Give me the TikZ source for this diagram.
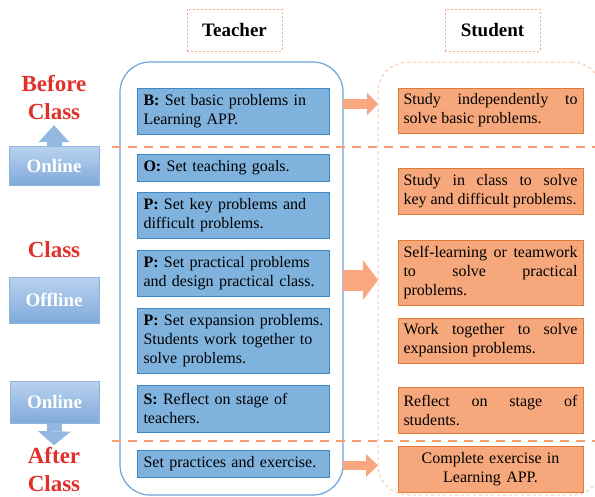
\documentclass[tikz,border=0pt]{standalone}
\usepackage{fontspec}
\setmainfont{Liberation Serif}
\usetikzlibrary{arrows.meta}
\hyphenpenalty=10000
\exhyphenpenalty=10000
\definecolor{tfill}{HTML}{7FB3DE}
\definecolor{tline}{HTML}{3F88C8}
\definecolor{sfill}{HTML}{F6A77B}
\definecolor{sline}{HTML}{E27A38}
\definecolor{arr}{HTML}{F8A77E}
\definecolor{dashc}{HTML}{F5A06E}
\definecolor{cont}{HTML}{6FA2D8}
\definecolor{scont}{HTML}{F9C4A6}
\definecolor{headc}{HTML}{F2A98C}
\definecolor{phasec}{HTML}{E0302A}
\definecolor{modetop}{HTML}{B9D2EE}
\definecolor{modebot}{HTML}{80AADB}
\definecolor{modeline}{HTML}{8FB4DF}
\definecolor{modearr}{HTML}{93B9E3}
\begin{document}
\begin{tikzpicture}[x=1pt,y=-1pt,
  every node/.style={inner sep=0pt, outer sep=0pt},
  body/.style={font=\fontsize{16}{19}\selectfont},
  tbox/.style={body, draw=tline, fill=tfill, line width=0.9pt,
    text width=180pt, inner xsep=6pt, align=left},
  sbox/.style={body, draw=sline, fill=sfill, line width=0.9pt,
    text width=174pt, inner xsep=5.5pt, align=justify},
  headbox/.style={draw=headc, line width=0.7pt, dash pattern=on 2pt off 2pt,
    minimum width=95pt, minimum height=42pt,
    font=\bfseries\fontsize{19}{22}\selectfont},
  phase/.style={text=phasec, align=center,
    font=\bfseries\fontsize{23}{28}\selectfont},
  mode/.style={shading=axis, top color=modetop, bottom color=modebot,
    draw=modeline, line width=0.8pt, minimum width=90pt, text=white,
    font=\bfseries\fontsize{19}{22}\selectfont},
  split/.style={draw=dashc, line width=1.8pt, dash pattern=on 9pt off 7pt},
]
\useasboundingbox (0,0) rectangle (595,496);

% column containers
\node[draw=cont, line width=1.2pt, rounded corners=30pt,
      minimum width=223pt, minimum height=433pt] (tc) at (231.5,278.5) {};
\node[draw=scont, line width=1pt, dash pattern=on 3pt off 3pt, rounded corners=30pt,
      minimum width=224pt, minimum height=433pt] (sc) at (490,278.5) {};

% stage separators
\draw[split] (112,147) -- (595,147);
\draw[split] (112,441) -- (595,441);

% column headings
\node[headbox] (th) at (234.5,30) {Teacher};
\node[headbox] (sh) at (492.5,30) {Student};

% stage labels
\node[phase] (before) at (54,98) {Before\\Class};
\node[phase] (inclass) at (54,250) {Class};
\node[phase] (after) at (54,470) {After\\Class};

% teaching modes
\node[mode, minimum height=39pt] (on1) at (54,165.5) {Online};
\node[mode, minimum height=46pt] (off) at (54,300) {Offline};
\node[mode, minimum height=42pt, minimum width=89pt] (on2) at (54.5,402) {Online};

\draw[draw=modearr, line width=15pt,
      -{Triangle[width=31pt,length=17pt,line width=0pt]}, shorten >=5pt]
  (on1.north) -- (before.south);
\draw[draw=modearr, line width=15pt,
      -{Triangle[width=33pt,length=14pt,line width=0pt]}, shorten >=2.5pt]
  (on2.south) -- (after.north);

% teacher tasks
\node[tbox, minimum height=46pt] (t1) at (233.5,111) {\textbf{B:} Set basic problems in\\Learning APP.};
\node[tbox, minimum height=27pt] (t2) at (233.5,167.5) {\textbf{O:} Set teaching goals.};
\node[tbox, minimum height=46pt] (t3) at (233.5,215) {\textbf{P:} Set key problems and\\difficult problems.};
\node[tbox, minimum height=46pt] (t4) at (233.5,273) {\textbf{P:} Set practical problems\\and design practical class.};
\node[tbox, minimum height=65pt] (t5) at (233.5,340.5) {\mbox{\textbf{P:} Set expansion problems.}\\Students work together to\\solve problems.};
\node[tbox, minimum height=47pt] (t6) at (233.5,408.5) {\textbf{S:} Reflect on stage of\\teachers.};
\node[tbox, minimum height=27pt] (t7) at (233.5,463.5) {Set practices and exercise.};

% student tasks
\node[sbox, minimum height=45pt] (s1) at (490.5,110.5) {Study independently to\linebreak solve basic problems.};
\node[sbox, minimum height=46pt] (s2) at (490.5,191) {Study in class to solve\linebreak key and difficult problems.};
\node[sbox, minimum height=65pt] (s3) at (490.5,272.5) {Self-learning or teamwork\linebreak to solve practical\linebreak problems.};
\node[sbox, minimum height=45pt] (s4) at (490.5,340.5) {Work together to solve\linebreak expansion problems.};
\node[sbox, minimum height=46pt] (s5) at (490.5,410) {Reflect on stage of\linebreak students.};
\node[sbox, minimum height=46pt, align=center] (s6) at (490.5,469) {Complete exercise in\\Learning APP.};

% teacher-to-student arrows
\draw[draw=arr, line width=10pt, -{Triangle[width=23pt,length=11pt,line width=0pt]}]
  (tc.east |- 0,104) -- (sc.west |- 0,104);
\draw[draw=arr, line width=21pt, -{Triangle[width=40pt,length=15pt,line width=0pt]}]
  (tc.east |- 0,280) -- (sc.west |- 0,280);
\draw[draw=arr, line width=9pt, -{Triangle[width=23pt,length=12pt,line width=0pt]}]
  (tc.east |- 0,465.5) -- (sc.west |- 0,465.5);
\end{tikzpicture}
\end{document}
